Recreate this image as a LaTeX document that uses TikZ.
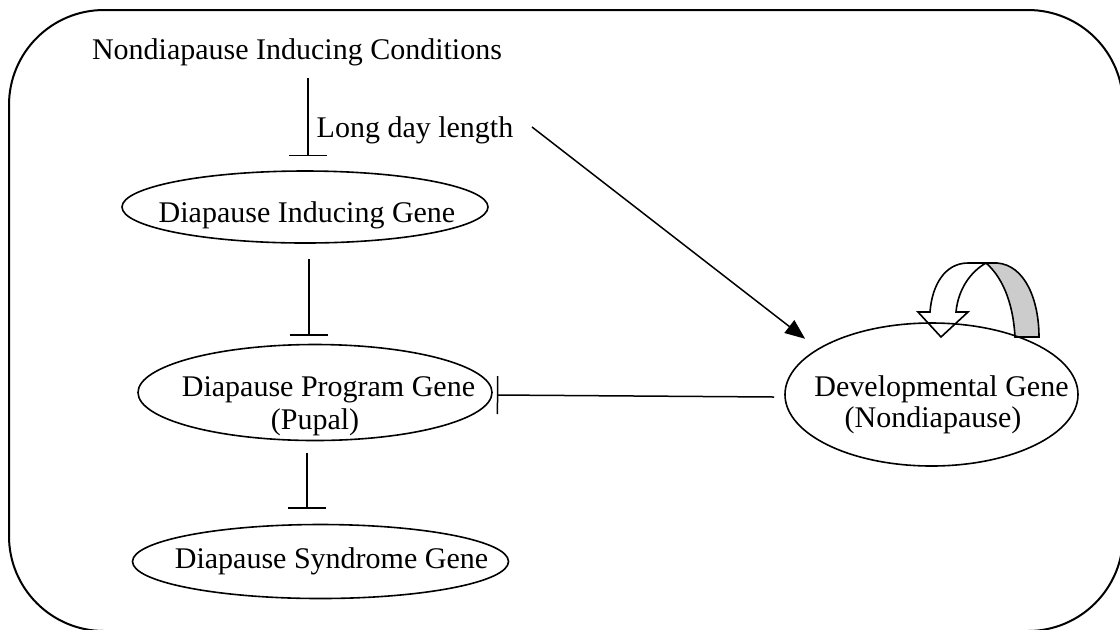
\documentclass[tikz,border=0pt]{standalone}
\usepackage{fontspec}
\setmainfont{Liberation Serif}
\usetikzlibrary{shapes.geometric,arrows.meta,calc}
\definecolor{loopgray}{HTML}{CCCCCC}
\begin{document}
\begin{tikzpicture}[x=0.5pt,y=-0.5pt,
  every node/.style={font=\fontsize{15}{18}\selectfont},
  lbl/.style={inner sep=0pt, anchor=base},
  gene/.style={draw, ellipse, line width=0.8pt, inner sep=0pt},
  inh/.style={line width=0.75pt, -{Bar[width=19pt,line width=0.75pt]}},
  act/.style={line width=0.75pt, -{Triangle[length=10pt,width=8pt]}},
  frame/.style={line width=1pt, rounded corners=47.5pt},
  loopw/.style={draw, line width=0.8pt, fill=white, line join=miter},
  loopg/.style={draw, line width=0.8pt, fill=loopgray, line join=miter}]
\useasboundingbox (0,0) rectangle (1120,629);
% outer frame
\draw[frame] (9,10) rectangle (1123,631);

% self loop block arrow (drawn below the ellipse)
\path[loopg] (986,263) -- (997,263) .. controls (1025,265) and (1039,300) .. (1039,337)
  -- (1015,337) .. controls (1013,300) and (1001,276) .. cycle;
\path[loopw] (968,263) -- (986,263) .. controls (970,272) and (958,290) .. (956,312)
  -- (968,312) -- (941,337) -- (918,312) -- (930,312)
  .. controls (932,285) and (945,263) .. cycle;

% genes
\node[gene, minimum width=183pt, minimum height=36pt] (e1) at (305,207) {};
\node[gene, minimum width=177pt, minimum height=48pt] (e2) at (315,392.5) {};
\node[gene, minimum width=188pt, minimum height=37pt] (e3) at (320.5,561.5) {};
\node[gene, minimum width=146.5pt, minimum height=71.5pt] (e4) at (931.5,394.5) {};

% texts
\node[lbl] (title) at (297,59) {Nondiapause Inducing Conditions};
\node[lbl] (ldl) at (415,137) {Long day length};
\node[lbl] (t1) at (307,222) {Diapause Inducing Gene};
\node[lbl] (t2a) at (328.5,396) {Diapause Program Gene};
\node[lbl] (t2b) at (315,429) {(Pupal)};
\node[lbl] (t3) at (331.5,568) {Diapause Syndrome Gene};
\node[lbl] (t4a) at (941.5,396) {Developmental Gene};
\node[lbl] (t4b) at (933,427) {(Nondiapause)};

% connectors
\coordinate (ldlend) at (532,127);
\draw[inh] ([shift={(1.5pt,-6pt)}]title.south -| e1.north) -- ([shift={(1.5pt,7pt)}]e1.north);
\draw[inh] ([shift={(2pt,-7.5pt)}]e1.south) -- ([shift={(2pt,4pt)}]e1.south |- e2.north);
\draw[inh] ([shift={(-4pt,-6pt)}]e2.south) -- ([shift={(-4pt,7.5pt)}]e2.south |- e3.north);
\draw[inh] ([shift={(-5pt,-1.25pt)}]e4.west) -- ([shift={(2pt,-1.25pt)}]e2.east);
\draw[act, shorten >=8pt] (ldlend) -- (e4.158);
\end{tikzpicture}
\end{document}
